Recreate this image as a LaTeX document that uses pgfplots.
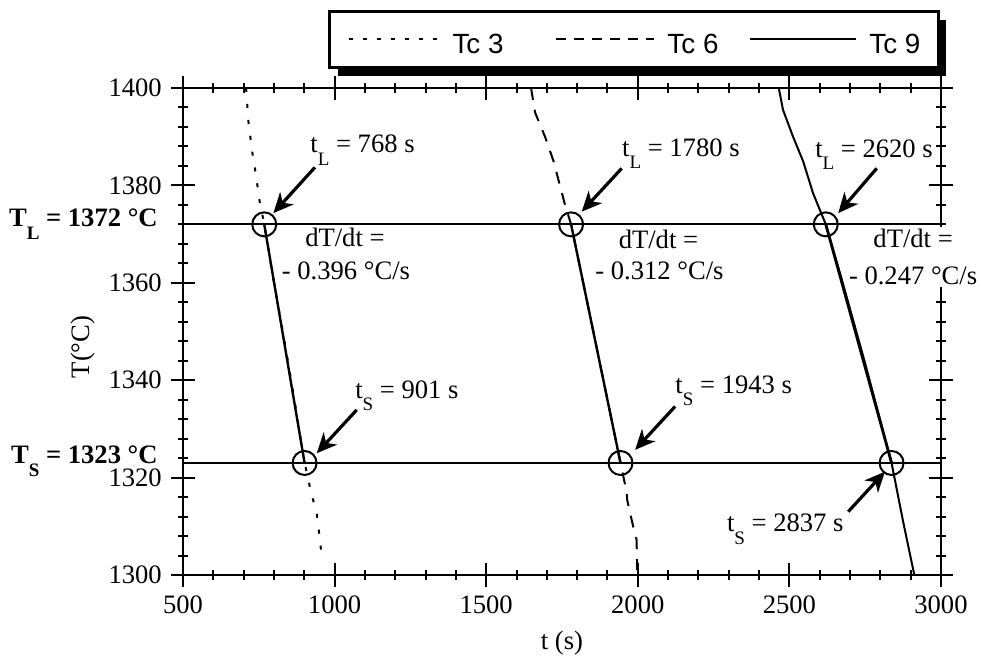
\documentclass[border=0pt]{standalone}
\usepackage{fontspec}
\setmainfont{Liberation Serif}
\newfontfamily\legfont{Liberation Sans}
\usepackage{pgfplots}
\pgfplotsset{compat=1.18}
\usetikzlibrary{arrows.meta,shadows}

% lowered subscript as in the original figure
\newcommand{\sub}[1]{\raisebox{-6.3pt}[0pt][0pt]{\fontsize{9.5}{10}\selectfont #1}}

% keep the legend's shadow off the legend samples
\makeatletter
\tikzset{nopre/.code={\let\tikz@preactions\pgfutil@empty}}
\makeatother

% legend samples of different lengths
\pgfplotsset{
  legdot/.style={legend image code/.code={\draw[nopre, ##1, dash pattern=on 2pt off 5pt] (0pt,0pt) -- (45.5pt,0pt); \path (0pt,3pt);}},
  legdash/.style={legend image code/.code={\draw[nopre, ##1, dash pattern=on 5pt off 4pt] (0pt,0pt) -- (49pt,0pt); \path (0pt,3pt);}},
  legline/.style={legend image code/.code={\draw[nopre, ##1] (0pt,0pt) -- (53pt,0pt); \path (0pt,3pt);}},
}

\begin{document}
\fontsize{13.3}{16}\selectfont
\begin{tikzpicture}[
  note/.style={inner sep=0pt, font=\fontsize{13.3}{16}\selectfont},
  pointer/.style={line width=1.6pt, -{Stealth[length=10pt,width=9pt,inset=3pt]}}]
\path[use as bounding box] (-91.5pt,-41pt) rectangle (399pt,287.5pt);
\begin{axis}[
  at={(0,0)}, anchor=south west,
  scale only axis, width=379pt, height=243.5pt,
  xmin=500, xmax=3000, ymin=1300, ymax=1400,
  xtick={500,1000,...,3000}, ytick={1300,1320,...,1400},
  minor x tick num=4, minor y tick num=4,
  tick align=center,
  major tick length=12pt, minor tick length=5pt,
  every tick/.style={line width=1pt, black},
  axis line style={line width=1pt},
  clip=false,
  /pgf/number format/assume math mode=true,
  /pgf/number format/1000 sep={},
  tick label style={font=\fontsize{13.3}{16}\selectfont, inner sep=1pt},
  xticklabel style={yshift=-3.4pt},
  yticklabel style={xshift=-3.4pt},
  xlabel={t (s)}, ylabel={T(°C)},
  xlabel style={at={(axis description cs:0.5,-0.14)}, anchor=center},
  ylabel style={at={(axis description cs:-0.132,0.468)}, anchor=center},
  legend columns=3,
  legend cell align=left,
  legend style={at={(0.1913,1.1602)}, anchor=north west, draw=black, line width=1.5pt,
    fill=white, drop shadow={shadow xshift=4pt, shadow yshift=-4.5pt, fill=black, opacity=1},
    font=\legfont\fontsize{13.9}{15}\selectfont, inner xsep=9pt, inner ysep=5pt,
    column sep=0pt, nodes={inner sep=0pt}},
]
% cooling curves
\addplot[line width=1pt, dash pattern=on 2pt off 6pt, legdot]
  coordinates {(708,1400) (716,1393) (728,1387) (741,1382) (752,1377) (768,1372)
    (800,1360) (835,1348) (870,1335) (901,1323) (912,1320) (922,1317)
    (941,1312.7) (949,1308.6) (957,1304.1) (960,1303)};
\addlegendentry{\hspace*{6pt}\rule{0pt}{16pt}Tc 3\hspace*{26pt}}
\addplot[line width=1pt, dash pattern=on 6pt off 5pt, legdash]
  coordinates {(1648,1400) (1661,1395) (1694,1390) (1722,1385) (1743,1380)
    (1760,1376) (1780,1372) (1820,1360) (1860,1348) (1900,1336) (1943,1323)
    (1963,1317.1) (1965,1315.4) (1985,1309.9) (1996,1307.2) (1998,1301)};
\addlegendentry{\hspace*{6pt}\rule{0pt}{16pt}Tc 6\hspace*{15.5pt}}
\addplot[line width=1pt, legline]
  coordinates {(2465,1400) (2479,1395.5) (2512,1390) (2545,1385) (2578,1378.4)
    (2620,1372) (2670,1361.3) (2747,1344.1) (2837,1323) (2875,1311) (2912,1300)};
\addlegendentry{\hspace*{6pt}\rule{0pt}{16pt}Tc 9}

% liquidus / solidus levels
\addplot[line width=0.9pt, forget plot] coordinates {(500,1372) (3000,1372)};
\addplot[line width=0.9pt, forget plot] coordinates {(500,1323) (3000,1323)};

% linear fits between tL and tS
\addplot[line width=1.2pt, forget plot] coordinates {(768,1372) (901,1323)};
\addplot[line width=1.2pt, forget plot] coordinates {(1780,1372) (1943,1323)};
\addplot[line width=1.4pt, forget plot] coordinates {(2620,1372) (2837,1323)};

% tL and tS points
\addplot[only marks, mark=o, mark size=6pt, mark options={line width=1pt}, forget plot]
  coordinates {(768,1372) (901,1323) (1780,1372) (1943,1323) (2620,1372) (2837,1323)};

% annotations
\node[note, anchor=base west] at (axis cs:919,1386.7) {t\sub{L} = 768 s};
\node[note, anchor=base west] at (axis cs:1947,1386.0) {t\sub{L} = 1780 s};
\node[note, anchor=base west] at (axis cs:2584,1385.8) {t\sub{L} = 2620 s};
\node[note, anchor=base west] at (axis cs:902,1367.4) {dT/dt =};
\node[note, anchor=base west] at (axis cs:825,1360.6) {- 0.396 °C/s};
\node[note, anchor=base west] at (axis cs:1936,1367.1) {dT/dt =};
\node[note, anchor=base west] at (axis cs:1859,1360.6) {- 0.312 °C/s};
\node[note, anchor=north, fill=white, inner sep=1pt, align=center,
  font=\fontsize{13.3}{18.3}\selectfont]
  at (axis cs:2908,1371.5) {dT/dt =\\- 0.247 °C/s};
\node[note, anchor=base west] at (axis cs:1067,1336.3) {t\sub{S} = 901 s};
\node[note, anchor=base west] at (axis cs:2123,1337.3) {t\sub{S} = 1943 s};
\node[note, anchor=base west] at (axis cs:2293,1308.9) {t\sub{S} = 2837 s};

\draw[pointer] (axis cs:935,1383.7) -- (axis cs:798,1374.3);
\draw[pointer] (axis cs:1947,1383.5) -- (axis cs:1815,1374.6);
\draw[pointer] (axis cs:2788,1383.5) -- (axis cs:2661,1374.3);
\draw[pointer] (axis cs:1073,1333.9) -- (axis cs:941,1325.0);
\draw[pointer] (axis cs:2123,1334.6) -- (axis cs:1991,1325.7);
\draw[pointer] (axis cs:2694,1313.0) -- (axis cs:2815,1321.2);

\node[note, anchor=base east, xshift=-12.5pt, font=\bfseries\fontsize{13.3}{16}\selectfont]
  at (axis cs:500,1371.5) {T\sub{L} = 1372 °C};
\node[note, anchor=base east, xshift=-12.5pt, font=\bfseries\fontsize{13.3}{16}\selectfont]
  at (axis cs:500,1322.9) {T\sub{S} = 1323 °C};
\end{axis}
\end{tikzpicture}
\end{document}
